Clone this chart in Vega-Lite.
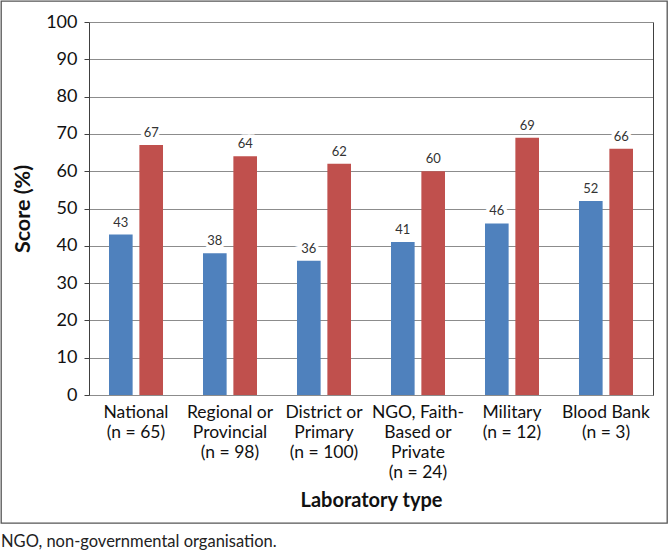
{
  "$schema": "https://vega.github.io/schema/vega-lite/v6.json",
  "width": 666,
  "height": 522,
  "autosize": {"type": "none"},
  "padding": {"left": 1, "top": 1, "right": 3, "bottom": 29},
  "background": "white",
  "config": {"font": "Lato", "view": {"stroke": "#555555", "strokeWidth": 1.3}},
  "title": {"text": "NGO, non-governmental organisation.", "orient": "bottom", "anchor": "start", "frame": "group", "fontSize": 16.5, "fontWeight": "normal", "color": "#222222", "offset": 11, "font": "Lato"},
  "data": {"values": [
    {"group": "National|(n = 65)", "series": "Baseline", "score": 43},
    {"group": "National|(n = 65)", "series": "Follow-up", "score": 67},
    {"group": "Regional or|Provincial|(n = 98)", "series": "Baseline", "score": 38},
    {"group": "Regional or|Provincial|(n = 98)", "series": "Follow-up", "score": 64},
    {"group": "District or|Primary|(n = 100)", "series": "Baseline", "score": 36},
    {"group": "District or|Primary|(n = 100)", "series": "Follow-up", "score": 62},
    {"group": "NGO, Faith-|Based or|Private|(n = 24)", "series": "Baseline", "score": 41},
    {"group": "NGO, Faith-|Based or|Private|(n = 24)", "series": "Follow-up", "score": 60},
    {"group": "Military|(n = 12)", "series": "Baseline", "score": 46},
    {"group": "Military|(n = 12)", "series": "Follow-up", "score": 69},
    {"group": "Blood Bank|(n = 3)", "series": "Baseline", "score": 52},
    {"group": "Blood Bank|(n = 3)", "series": "Follow-up", "score": 66}
  ]},
  "encoding": {
    "x": {"field": "group", "type": "nominal", "sort": null,
      "scale": {"range": [88, 652], "paddingInner": 0.4255, "paddingOuter": 0.2128},
      "axis": {"offset": -128, "ticks": false, "grid": false, "domainColor": "#8c8c8c", "labelAngle": 0, "labelPadding": 8, "labelFontSize": 17.5, "labelColor": "#111111", "labelLineHeight": 20, "labelBaseline": "top", "labelExpr": "split(datum.label, '|')", "labelOverlap": false, "labelLimit": 0, "title": "Laboratory type", "titleFontSize": 20, "titleFontWeight": "bold", "titleColor": "#111111", "titlePadding": 10}},
    "xOffset": {"field": "series", "type": "nominal", "sort": null, "scale": {"paddingInner": 0.222, "paddingOuter": 0}}
  },
  "layer": [
    {
      "mark": {"type": "bar"},
      "encoding": {
        "y": {"field": "score", "type": "quantitative",
          "scale": {"domain": [0, 100], "range": [394, 21], "nice": false},
          "axis": {"orient": "left", "offset": -88, "values": [0, 10, 20, 30, 40, 50, 60, 70, 80, 90, 100], "grid": true, "gridColor": "#8c8c8c", "gridWidth": 1, "domainColor": "#404040", "tickColor": "#404040", "tickSize": 5, "labelPadding": 7, "labelFontSize": 18, "labelColor": "#111111", "title": "Score (%)", "titleFontSize": 21.5, "titleFontWeight": "bold", "titleColor": "#111111", "titlePadding": 11}},
        "color": {"field": "series", "type": "nominal", "legend": null, "scale": {"domain": ["Baseline", "Follow-up"], "range": ["#4F81BD", "#C0504D"]}}
      }
    },
    {
      "mark": {"type": "text", "baseline": "bottom", "dy": -5, "fontSize": 13, "fill": "white", "stroke": "white", "strokeWidth": 7},
      "encoding": {
        "y": {"field": "score", "type": "quantitative", "axis": null},
        "text": {"field": "score", "type": "quantitative"}
      }
    },
    {
      "mark": {"type": "text", "baseline": "bottom", "dy": -5, "fontSize": 13, "color": "#333333"},
      "encoding": {
        "y": {"field": "score", "type": "quantitative",
          "axis": {"orient": "right", "offset": -14, "domain": true, "domainColor": "#404040", "ticks": false, "labels": false, "grid": false, "title": null}},
        "text": {"field": "score", "type": "quantitative"}
      }
    }
  ],
  "resolve": {"axis": {"y": "independent"}}
}
